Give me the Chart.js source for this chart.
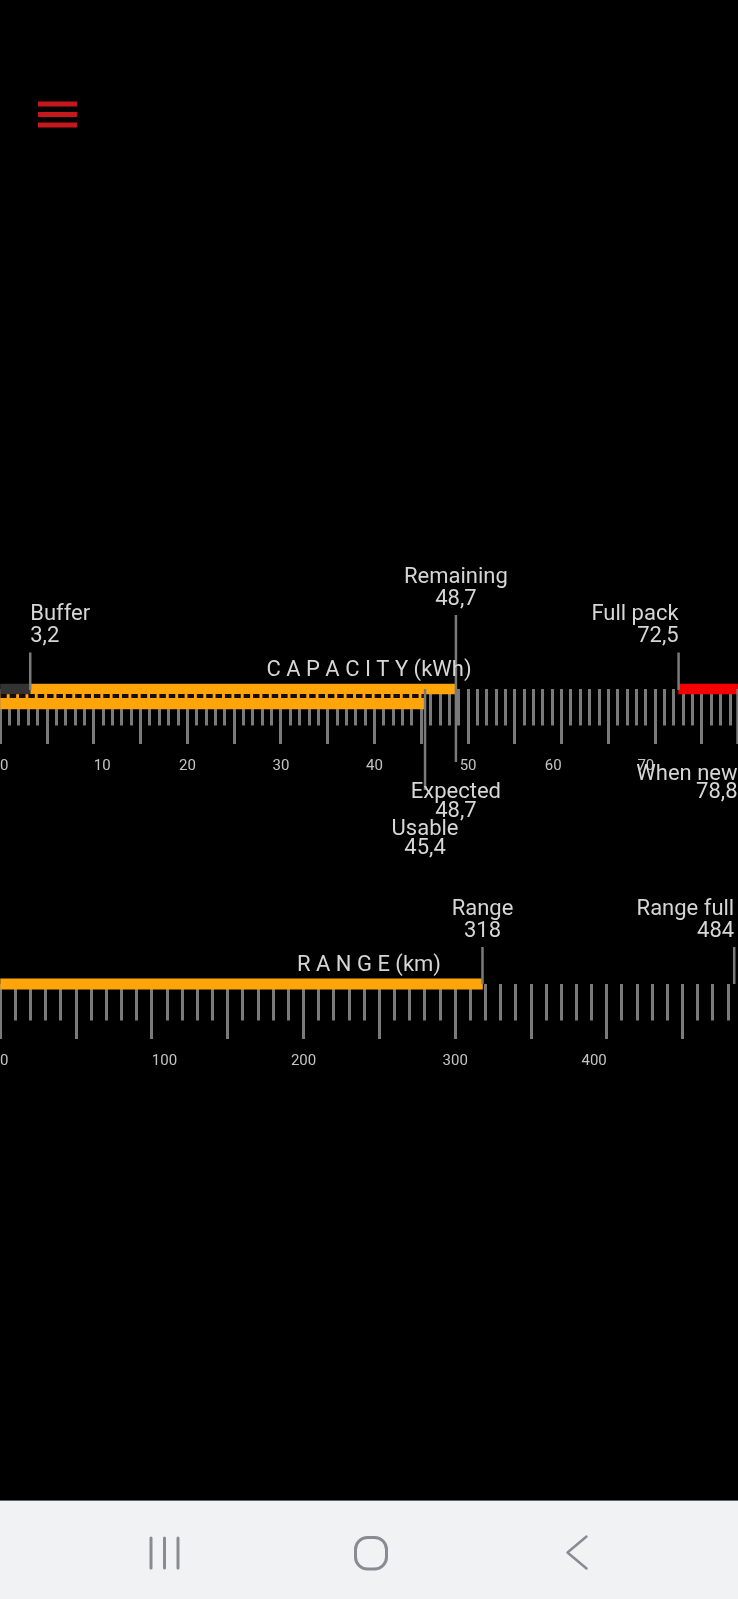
<!DOCTYPE html>
<html>
<head>
<meta charset="utf-8">
<style>
html,body{margin:0;padding:0;background:#000;width:738px;height:1599px;overflow:hidden}
#wrap{position:absolute;left:0;top:0;width:738px;height:1500px}
#menu{position:absolute;left:38px;top:101px}
#nav{position:absolute;left:0;top:1500px;width:738px;height:99px;background:#f1f2f4;border-top:1px solid #666;box-sizing:border-box}
#nav svg{position:absolute;left:0;top:-1500px}
</style>
<script src="https://cdn.jsdelivr.net/npm/chart.js@4"></script>
</head>
<body>
<div id="wrap"><canvas id="c" width="738" height="1500"></canvas></div>
<svg id="menu" width="40" height="28"><g fill="#c4181c"><rect x="0" y="0.500" width="39" height="5"/><rect x="0" y="11" width="39" height="5"/><rect x="0" y="21.500" width="39" height="5"/></g></svg>
<div id="nav"><svg width="738" height="1599" fill="none" stroke="#8b8b8f" stroke-width="3" stroke-linecap="round" stroke-linejoin="round">
<path d="M151 1537V1567M164.500 1537V1567M178 1537V1567"/>
<rect x="355.500" y="1536.500" width="31" height="31.500" rx="12"/>
<path d="M586.500 1535.500L567.500 1551.500L586.500 1567.500" stroke-width="2.500"/>
</svg></div>
<script>
// ---- Capacity (kWh) values
const capacityMax = 78.85;
const bufferKwh = 3.2;
const remainingKwh = 48.7;
const expectedKwh = 48.7;
const usableKwh = 45.4;
const fullPackKwh = 72.5;
const whenNewKwh = 78.8;
const capacityTickLabels = ['0','10','20','30','40','50','60','70'];
const capacityTickLabelAt = [0.43,10.9,20,30,40,50,59.1,69];
const capacityMinorStep = 1;
const capacityMajorStep = 5;

// ---- Range (km) values
const rangeMax = 486.5;
const rangeKm = 318;
const rangeFullKm = 484;
const rangeTickLabels = ['0','100','200','300','400'];
const rangeTickLabelAt = [2.6,108.3,200,300,391.6];
const rangeMinorStep = 10;
const rangeMajorStep = 50;

// ---- Titles
const capacityTitle = 'C A P A C I T Y (kWh)';
const rangeTitle = 'R A N G E (km)';

// ---- Vertical layout rows (page pixels on the hidden y scale)
const ROW = {capTop:689, capBottom:701.5, dash:696, capAxis:689, capLabels:757,
             rngBar:984, rngAxis:984, rngLabels:1052};

const ORANGE='#ffa50a', RED='#f50000', DARK='#333333', TICK='#7a7a7a', TEXT='#d6d6d6';

function bar(from,to,y,xAxisID,color,thick){
  return {type:'bar',indexAxis:'y',order:5,data:[{x:[from,to],y:y}],xAxisID,yAxisID:'y',
          backgroundColor:color,barThickness:thick,grouped:false,borderWidth:0};
}
function marker(v,y1,y2,xAxisID){
  return {type:'line',indexAxis:'y',order:1,data:[{x:v,y:y1},{x:v,y:y2}],xAxisID,yAxisID:'y',
          borderColor:TICK,borderWidth:2.5,pointRadius:0,fill:false,tension:0};
}
function tickAxis(max,step,y,len){
  return {type:'linear',axis:'x',min:0,max,position:{y},
    border:{display:false},
    grid:{drawOnChartArea:false,drawTicks:true,tickLength:len,tickColor:TICK,lineWidth:3},
    ticks:{display:false,stepSize:step,autoSkip:false,includeBounds:false}};
}
function labelAxis(max,y,at,labels){
  return {type:'linear',axis:'x',min:0,max,position:{y},
    border:{display:false},
    grid:{drawOnChartArea:false,drawTicks:false},
    afterBuildTicks(ax){ax.ticks=at.map(v=>({value:v}));},
    ticks:{autoSkip:false,maxRotation:0,minRotation:0,padding:0,color:'#c4c4c4',
           font:{family:'Roboto',size:15},callback:(v,i)=>labels[i]}};
}
const fmt=v=>String(v).replace('.',',');

// text annotations: label, value, x axis, anchor, baselines
const notes=[
 {t:'Buffer',v:bufferKwh,ax:'xCap',align:'left',y:620,y2:642},
 {t:'Remaining',v:remainingKwh,ax:'xCap',align:'center',y:583,y2:605},
 {t:'Full pack',v:fullPackKwh,ax:'xCap',align:'right',y:620,y2:642},
 {t:'Expected',v:expectedKwh,ax:'xCap',align:'center',y:798,y2:817},
 {t:'Usable',v:usableKwh,ax:'xCap',align:'center',y:835,y2:854},
 {t:'When new',v:whenNewKwh,ax:'xCap',align:'right',y:780,y2:798},
 {t:'Range',v:rangeKm,ax:'xRng',align:'center',y:915,y2:936.5},
 {t:'Range full',v:rangeFullKm,ax:'xRng',align:'right',y:915,y2:936.5}
];
const textPlugin={id:'texts',afterDatasetsDraw(chart){
  const c=chart.ctx;c.save();
  c.font='22px Roboto';c.fillStyle=TEXT;c.textBaseline='alphabetic';
  for(const n of notes){
    const x=chart.scales[n.ax].getPixelForValue(n.v);
    c.textAlign=n.align;
    c.fillText(n.t,x,n.y);
    c.fillText(fmt(n.v),x,n.y2);
  }
  c.textAlign='center';
  c.fillText(capacityTitle,369,676);
  c.fillText(rangeTitle,369,971);
  c.restore();
}};

new Chart(document.getElementById('c'),{
  type:'bar',
  data:{datasets:[
    bar(0,bufferKwh,ROW.capTop,'xCap',DARK,10),
    bar(bufferKwh,remainingKwh,ROW.capTop,'xCap',ORANGE,10),
    bar(0,usableKwh,ROW.capBottom,'xCap',ORANGE,15),
    bar(fullPackKwh,whenNewKwh,ROW.capTop,'xCap',RED,10),
    bar(0,rangeKm,ROW.rngBar,'xRng',ORANGE,10.5),
    {type:'line',indexAxis:'y',order:2,data:[{x:0,y:ROW.dash},{x:usableKwh,y:ROW.dash}],xAxisID:'xCap',yAxisID:'y',
     borderColor:'#1a0d00',borderWidth:4,borderDash:[6.5,2.86],pointRadius:0,fill:false},
    marker(bufferKwh,652.5,690,'xCap'),
    marker(remainingKwh,615,762,'xCap'),
    marker(usableKwh,689,790,'xCap'),
    marker(fullPackKwh,652.5,690,'xCap'),
    marker(whenNewKwh,689,744,'xCap'),
    marker(rangeKm,947,984,'xRng'),
    marker(rangeFullKm,947,984,'xRng')
  ]},
  options:{
    indexAxis:'y',responsive:false,animation:false,
    layout:{padding:0,autoPadding:false},
    events:[],
    plugins:{legend:{display:false},tooltip:{enabled:false},title:{display:false}},
    scales:{
      y:{type:'linear',axis:'y',min:0,max:1500,reverse:true,display:false,offset:false,grid:{display:false,offset:false}},
      xCap:{type:'linear',axis:'x',min:0,max:capacityMax,display:false},
      xRng:{type:'linear',axis:'x',min:0,max:rangeMax,display:false},
      xCapMinor:tickAxis(capacityMax,capacityMinorStep,ROW.capAxis,36.5),
      xCapMajor:tickAxis(capacityMax,capacityMajorStep,ROW.capAxis,55),
      xCapLabels:labelAxis(capacityMax,ROW.capLabels,capacityTickLabelAt,capacityTickLabels),
      xRngMinor:tickAxis(rangeMax,rangeMinorStep,ROW.rngAxis,36.5),
      xRngMajor:tickAxis(rangeMax,rangeMajorStep,ROW.rngAxis,55),
      xRngLabels:labelAxis(rangeMax,ROW.rngLabels,rangeTickLabelAt,rangeTickLabels)
    }
  },
  plugins:[textPlugin]
});
</script>
</body>
</html>
